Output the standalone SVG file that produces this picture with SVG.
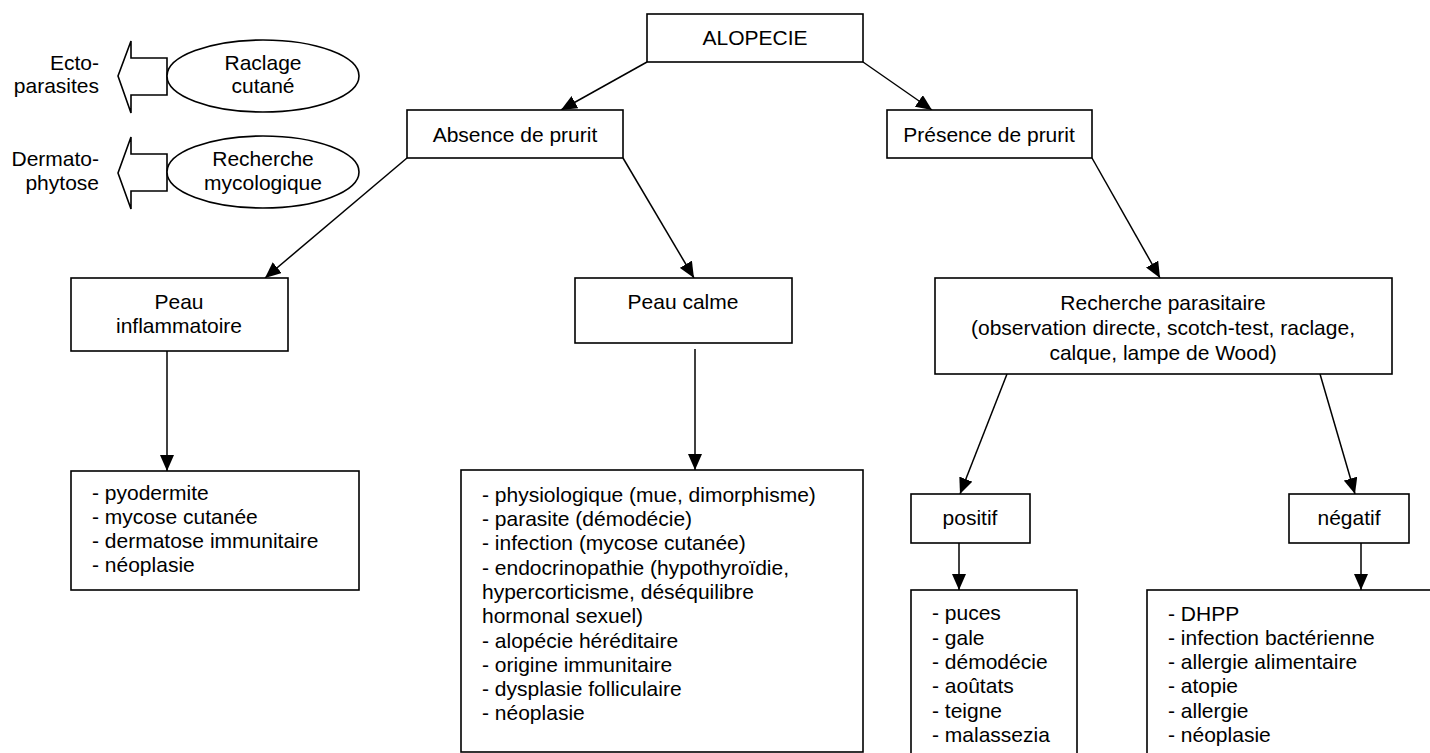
<svg xmlns="http://www.w3.org/2000/svg" width="1430" height="753" viewBox="0 0 1430 753">
<style>
text{font-family:"Liberation Sans",Arial,sans-serif;font-size:21px;fill:#000}
.c{text-anchor:middle}
.r{text-anchor:end}
.box{fill:#fff;stroke:#000;stroke-width:1.6}
.ln{stroke:#000;stroke-width:1.5;fill:none;marker-end:url(#ah)}
</style>
<defs>
<marker id="ah" markerUnits="userSpaceOnUse" markerWidth="16" markerHeight="14" refX="16" refY="7" orient="auto">
<path d="M0,0 L16,7 L0,14 z" fill="#000"/>
</marker>
</defs>
<rect width="1430" height="753" fill="#fff"/>
<g id="connectors">
<line class="ln" x1="647" y1="62" x2="561" y2="110"/>
<line class="ln" x1="863" y1="62" x2="932" y2="110"/>
<line class="ln" x1="407" y1="158" x2="265" y2="278"/>
<line class="ln" x1="623" y1="158" x2="694" y2="278"/>
<line class="ln" x1="1092" y1="158" x2="1160" y2="278"/>
<line class="ln" x1="167" y1="351" x2="167" y2="471"/>
<line class="ln" x1="695" y1="349" x2="695" y2="470"/>
<line class="ln" x1="1007" y1="374" x2="960" y2="494"/>
<line class="ln" x1="1320" y1="374" x2="1355" y2="494"/>
<line class="ln" x1="959" y1="543" x2="959" y2="590"/>
<line class="ln" x1="1361" y1="543" x2="1361" y2="590"/>
</g>
<g id="ectoparasites">
<polygon class="box" points="167,58 131,58 131,41 118,76 131,113 131,95 167,95"/>
<text class="r" x="99" y="70">Ecto-</text>
<text class="r" x="99" y="93">parasites</text>
</g>
<g id="raclage">
<ellipse class="box" cx="263" cy="76" rx="96" ry="36"/>
<text class="c" x="263" y="70">Raclage</text>
<text class="c" x="263" y="93">cutané</text>
</g>
<g id="dermatophytose">
<polygon class="box" points="167,154 131,154 131,137 118,173 131,209 131,191 167,191"/>
<text class="r" x="99" y="166">Dermato-</text>
<text class="r" x="99" y="190">phytose</text>
</g>
<g id="mycologique">
<ellipse class="box" cx="263" cy="172" rx="96" ry="36"/>
<text class="c" x="263" y="166">Recherche</text>
<text class="c" x="263" y="190">mycologique</text>
</g>
<g id="alopecie">
<rect class="box" x="647" y="14" width="216" height="48"/>
<text class="c" x="755" y="45">ALOPECIE</text>
</g>
<g id="absence">
<rect class="box" x="407" y="110" width="216" height="48"/>
<text class="c" x="515" y="142">Absence de prurit</text>
</g>
<g id="presence">
<rect class="box" x="887" y="110" width="205" height="48"/>
<text class="c" x="989" y="142">Présence de prurit</text>
</g>
<g id="peau-inflammatoire">
<rect class="box" x="71" y="278" width="217" height="73"/>
<text class="c" x="179" y="309">Peau</text>
<text class="c" x="179" y="333">inflammatoire</text>
</g>
<g id="peau-calme">
<rect class="box" x="575" y="278" width="217" height="65"/>
<text class="c" x="683" y="309">Peau calme</text>
</g>
<g id="recherche-parasitaire">
<rect class="box" x="935" y="278" width="457" height="96"/>
<text class="c" x="1163" y="310">Recherche parasitaire</text>
<text class="c" x="1163" y="335">(observation directe, scotch-test, raclage,</text>
<text class="c" x="1163" y="360">calque, lampe de Wood)</text>
</g>
<g id="list-inflammatoire">
<rect class="box" x="71" y="471" width="288" height="119"/>
<text x="92" y="500">- pyodermite</text>
<text x="92" y="524">- mycose cutanée</text>
<text x="92" y="548">- dermatose immunitaire</text>
<text x="92" y="572">- néoplasie</text>
</g>
<g id="list-calme">
<rect class="box" x="461" y="470" width="402" height="282"/>
<text x="482" y="502">- physiologique (mue, dimorphisme)</text>
<text x="482" y="526">- parasite (démodécie)</text>
<text x="482" y="550">- infection (mycose cutanée)</text>
<text x="482" y="575">- endocrinopathie (hypothyroïdie,</text>
<text x="482" y="599">hypercorticisme, déséquilibre</text>
<text x="482" y="623">hormonal sexuel)</text>
<text x="482" y="648">- alopécie héréditaire</text>
<text x="482" y="672">- origine immunitaire</text>
<text x="482" y="696">- dysplasie folliculaire</text>
<text x="482" y="720">- néoplasie</text>
</g>
<g id="positif">
<rect class="box" x="911" y="494" width="119" height="49"/>
<text class="c" x="970" y="525">positif</text>
</g>
<g id="negatif">
<rect class="box" x="1289" y="494" width="120" height="49"/>
<text class="c" x="1349" y="525">négatif</text>
</g>
<g id="list-positif">
<rect class="box" x="911" y="590" width="166" height="180"/>
<text x="932" y="620">- puces</text>
<text x="932" y="645">- gale</text>
<text x="932" y="669">- démodécie</text>
<text x="932" y="693">- aoûtats</text>
<text x="932" y="718">- teigne</text>
<text x="932" y="742">- malassezia</text>
</g>
<g id="list-negatif">
<rect class="box" x="1147" y="590" width="300" height="180"/>
<text x="1168" y="621">- DHPP</text>
<text x="1168" y="645">- infection bactérienne</text>
<text x="1168" y="669">- allergie alimentaire</text>
<text x="1168" y="693">- atopie</text>
<text x="1168" y="718">- allergie</text>
<text x="1168" y="742">- néoplasie</text>
</g>
</svg>
